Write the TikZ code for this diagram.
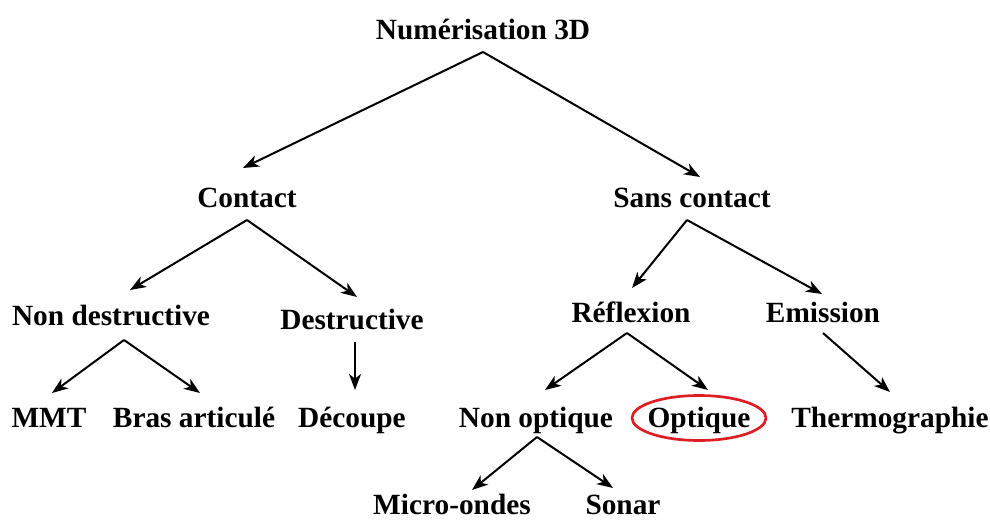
\documentclass[tikz,border=0pt]{standalone}
\usepackage{fontspec}
\setmainfont{Liberation Serif}
\usetikzlibrary{arrows.meta}
\definecolor{ovalred}{RGB}{222,30,36}
\tikzset{
  lbl/.style={anchor=base, inner sep=0pt, font=\fontsize{22}{26}\selectfont\bfseries},
  arr/.style={line width=1.5pt, -{Stealth[length=12pt,width=9pt,inset=3.5pt]}},
  oval/.style={draw=ovalred, line width=2pt, ellipse}
}
\usetikzlibrary{shapes.geometric}
\begin{document}
\begin{tikzpicture}[x=0.75pt,y=-0.75pt]
\useasboundingbox (0,0) rectangle (990,521);
% nodes
\node[lbl] (num) at (483,40) {Numérisation 3D};
\node[lbl] (contact) at (247,207) {Contact};
\node[lbl] (sans) at (692,207) {Sans contact};
\node[lbl] (nondes) at (111,325) {Non destructive};
\node[lbl] (des) at (352,329) {Destructive};
\node[lbl] (refl) at (631,322) {Réflexion};
\node[lbl] (emis) at (823,322) {Emission};
\node[lbl] (mmt) at (49,427) {MMT};
\node[lbl] (bras) at (194,427) {Bras articulé};
\node[lbl] (decoupe) at (352,427) {Découpe};
\node[lbl] (nonopt) at (536,427) {Non optique};
\node[lbl] (opt) at (699,427) {Optique};
\node[lbl] (thermo) at (890,427) {Thermographie};
\node[lbl, text depth=0pt] (micro) at (452,514) {Micro-ondes};
\node[lbl, text depth=0pt] (sonar) at (623,514) {Sonar};
\node[oval, minimum width=134*0.75pt, minimum height=45*0.75pt] (ring) at (699,418) {};
% connector points
\coordinate (numA) at (483,52);
\coordinate (contactT) at (243,168);
\coordinate (sansT) at (700,177);
\coordinate (contactA) at (247,220);
\coordinate (nondesT) at (130,290);
\coordinate (desT) at (357,297);
\coordinate (sansA) at (687,220);
\coordinate (reflT) at (632,288);
\coordinate (emisT) at (822,294);
\coordinate (nondesA) at (124,340);
\coordinate (mmtT) at (52,393);
\coordinate (brasT) at (200,393);
\coordinate (desA) at (355,342);
\coordinate (decoupeT) at (355,390);
\coordinate (reflA) at (627,333);
\coordinate (nonoptT) at (545,390);
\coordinate (optT) at (708,390);
\coordinate (emisA) at (823,333);
\coordinate (thermoT) at (890,392);
\coordinate (nonoptA) at (537,437);
\coordinate (microT) at (472,490);
\coordinate (sonarT) at (613,488);
% connectors
\draw[arr] (numA) -- (contactT);
\draw[arr] (numA) -- (sansT);
\draw[arr] (contactA) -- (nondesT);
\draw[arr] (contactA) -- (desT);
\draw[arr] (sansA) -- (reflT);
\draw[arr] (sansA) -- (emisT);
\draw[arr] (nondesA) -- (mmtT);
\draw[arr] (nondesA) -- (brasT);
\draw[arr] (desA) -- (decoupeT);
\draw[arr] (reflA) -- (nonoptT);
\draw[arr] (reflA) -- (optT);
\draw[arr] (emisA) -- (thermoT);
\draw[arr] (nonoptA) -- (microT);
\draw[arr] (nonoptA) -- (sonarT);
\end{tikzpicture}
\end{document}
